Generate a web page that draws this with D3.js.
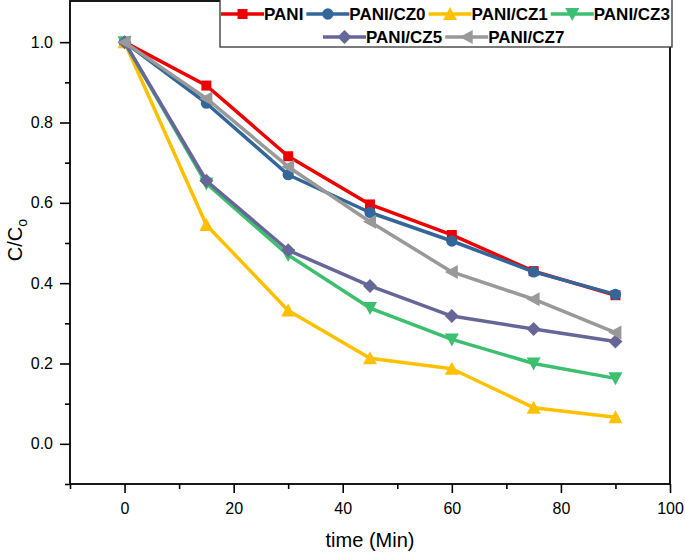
<!DOCTYPE html>
<html>
<head>
<meta charset="utf-8">
<script src="https://cdn.jsdelivr.net/npm/d3@7"></script>
<style>
  html, body { margin: 0; padding: 0; background: #fff; }
  svg { display: block; font-family: "Liberation Sans", Arial, sans-serif; }
</style>
</head>
<body>
<svg id="chart" width="685" height="552"></svg>
<script>
const times = [0, 15, 30, 45, 60, 75, 90];
const seriesNames = ["PANI", "PANI/CZ0", "PANI/CZ1", "PANI/CZ3", "PANI/CZ5", "PANI/CZ7"];
const pani    = [1.0, 0.892, 0.716, 0.596, 0.520, 0.430, 0.370];
const paniCZ0 = [1.0, 0.848, 0.670, 0.576, 0.505, 0.428, 0.372];
const paniCZ1 = [1.0, 0.545, 0.332, 0.213, 0.187, 0.090, 0.066];
const paniCZ3 = [1.0, 0.648, 0.470, 0.338, 0.260, 0.200, 0.163];
const paniCZ5 = [1.0, 0.655, 0.482, 0.393, 0.318, 0.286, 0.255];
const paniCZ7 = [1.0, 0.860, 0.690, 0.553, 0.428, 0.360, 0.277];
const xTicks = [0, 20, 40, 60, 80, 100];
const yTicks = [0.0, 0.2, 0.4, 0.6, 0.8, 1.0];

const colors = ["#ee0000", "#336699", "#ffc000", "#3cbf6e", "#666699", "#999999"];
const symbols = ["square", "circle", "triUp", "triDown", "diamond", "triLeft"];
const values = [pani, paniCZ0, paniCZ1, paniCZ3, paniCZ5, paniCZ7];

const svg = d3.select("#chart");
const L = 70, R = 670, T = 2, B = 484;
const x = d3.scaleLinear().domain([-10, 100]).range([L, R]);
const y = d3.scaleLinear().domain([-0.1, 1.1]).range([B, T]);

function markerPath(type) {
  const s = 6;
  switch (type) {
    case "square": return d3.symbol(d3.symbolSquare, 100)();
    case "circle": return d3.symbol(d3.symbolCircle, 100)();
    case "diamond": return `M0,${-s-1}L${s+1},0L0,${s+1}L${-s-1},0Z`;
    case "triUp": return `M0,${-s-1}L${s+1},${s}L${-s-1},${s}Z`;
    case "triDown": return `M0,${s+1}L${s+1},${-s}L${-s-1},${-s}Z`;
    case "triLeft": return `M${-s-1},0L${s},${-s-1}L${s},${s+1}Z`;
  }
}

// axes
const xMinor = d3.range(-10, 101, 20);
const yMinor = d3.range(-0.1, 1.05, 0.2).map(v => +v.toFixed(2));

const gx = svg.append("g").attr("transform", `translate(0,${B})`);
gx.call(d3.axisBottom(x).tickValues(xTicks).tickSize(9).tickSizeOuter(0).tickFormat(d3.format("d")));
gx.append("g").call(d3.axisBottom(x).tickValues(xMinor).tickSize(5).tickSizeOuter(0).tickFormat(""));
const gy = svg.append("g").attr("transform", `translate(${L},0)`);
gy.call(d3.axisLeft(y).tickValues(yTicks).tickSize(10).tickSizeOuter(0).tickFormat(d3.format(".1f")));
gy.append("g").call(d3.axisLeft(y).tickValues(yMinor).tickSize(5).tickSizeOuter(0).tickFormat(""));

svg.selectAll(".domain").remove();
svg.selectAll(".tick line").attr("stroke", "#000").attr("stroke-width", 1.6);
svg.selectAll(".tick text").attr("fill", "#000").style("font-size", "16px").style("font-family", "'Liberation Sans', Arial, sans-serif");
gx.selectAll(".tick text").attr("dy", "1.1em");
gy.selectAll(".tick text").attr("dx", "-0.25em");

// frame
svg.append("rect").attr("x", L).attr("y", T - 1).attr("width", R - L).attr("height", B - T + 1)
  .attr("fill", "none").attr("stroke", "#000").attr("stroke-width", 1.8);

// titles
svg.append("text").attr("x", (L + R) / 2).attr("y", 547).attr("text-anchor", "middle")
  .style("font-size", "20px").text("time (Min)");
const yl = svg.append("text").attr("transform", "translate(22,240) rotate(-90)")
  .attr("text-anchor", "middle").style("font-size", "20px");
yl.append("tspan").text("C/C");
yl.append("tspan").attr("dy", 5).style("font-size", "14px").text("o");

// series
const line = d3.line().x((d, i) => x(times[i])).y(d => y(d));
const plot = svg.append("g");
values.forEach((vals, k) => {
  const g = plot.append("g");
  g.append("path").datum(vals).attr("d", line).attr("fill", "none")
    .attr("stroke", colors[k]).attr("stroke-width", 3.5).attr("stroke-linejoin", "round");
  g.selectAll("path.m").data(vals).join("path").attr("class", "m")
    .attr("transform", (d, i) => `translate(${x(times[i])},${y(d)})`)
    .attr("d", markerPath(symbols[k])).attr("fill", colors[k]);
});

// legend
const leg = svg.append("g");
leg.append("rect").attr("x", 220).attr("y", -1).attr("width", 452).attr("height", 48)
  .attr("fill", "#fff").attr("stroke", "#333").attr("stroke-width", 1.3);
function legendRow(indices, startX, yy) {
  let cx = startX;
  indices.forEach(k => {
    leg.append("line").attr("x1", cx).attr("x2", cx + 43).attr("y1", yy).attr("y2", yy)
      .attr("stroke", colors[k]).attr("stroke-width", 3.5);
    leg.append("path").attr("transform", `translate(${cx + 21.5},${yy})`)
      .attr("d", markerPath(symbols[k])).attr("fill", colors[k]);
    const t = leg.append("text").attr("x", cx + 43).attr("y", yy + 6)
      .style("font-size", "17px").style("font-weight", "bold").text(seriesNames[k]);
    cx += 43 + t.node().getComputedTextLength() + 3;
  });
}
legendRow([0, 1, 2, 3], 221, 14);
legendRow([4, 5], 323, 37);
</script>
</body>
</html>
